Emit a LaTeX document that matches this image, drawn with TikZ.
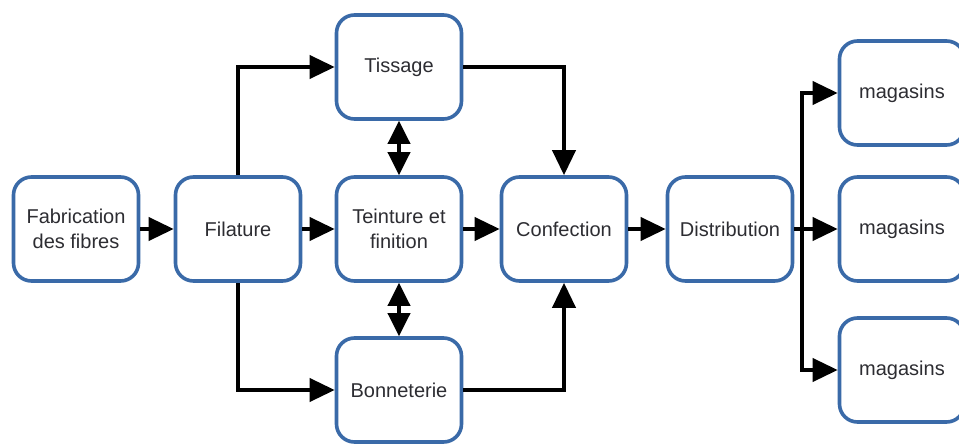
\documentclass[tikz,border=0pt]{standalone}
\usepackage{fontspec}
\setmainfont{Liberation Sans}
\usetikzlibrary{arrows.meta}
\definecolor{boxblue}{RGB}{58,106,168}
\definecolor{txtgray}{RGB}{45,45,50}
\begin{document}
\begin{tikzpicture}[x=1pt,y=1pt,
  stage/.style={draw=boxblue, line width=3.6pt, rounded corners=18pt, fill=white,
    minimum width=125pt, minimum height=104pt, align=center,
    font=\fontsize{20}{24.5}\selectfont, text=txtgray, inner sep=2pt},
  flow/.style={line width=3.8pt, line join=miter, -{Triangle[length=25pt,width=23pt]}},
  both/.style={line width=3.8pt, {Triangle[length=23pt,width=22pt]}-{Triangle[length=23pt,width=22pt]}},
  plain/.style={line width=3.8pt}]
\useasboundingbox (0,0) rectangle (959,-444);
\fill[white] (0,0) rectangle (959,-444);

% process stages
\node[stage] (fab) at (76,-229) {Fabrication\\des fibres};
\node[stage] (fil) at (238,-229) {Filature};
\node[stage] (tis) at (399,-67) {Tissage};
\node[stage] (tei) at (399,-229) {Teinture et\\finition};
\node[stage] (bon) at (399,-390) {Bonneterie};
\node[stage] (con) at (564,-229) {Confection};
\node[stage] (dis) at (730,-229) {Distribution};
\node[stage] (m1) at (902,-93) {magasins};
\node[stage] (m2) at (902,-229) {magasins};
\node[stage] (m3) at (902,-370) {magasins};

% main flow
\draw[flow] (fab) -- (fil);
\draw[flow] (fil) -- (tei);
\draw[flow] (tei) -- (con);
\draw[flow] (con) -- (dis);
\draw[flow] (fil.north) |- (tis.west);
\draw[flow] (fil.south) |- (bon.west);
\draw[flow] (tis.east) -| (con.north);
\draw[flow] (bon.east) -| (con.south);
\draw[both] (tis) -- (tei);
\draw[both] (tei) -- (bon);

% distribution to the shops
\coordinate (split) at (802,-229);
\draw[plain] (dis.east) -- (split);
\draw[flow] (split) -- (m2);
\draw[flow] (split) |- (m1.west);
\draw[flow] (split) |- (m3.west);
\end{tikzpicture}
\end{document}
